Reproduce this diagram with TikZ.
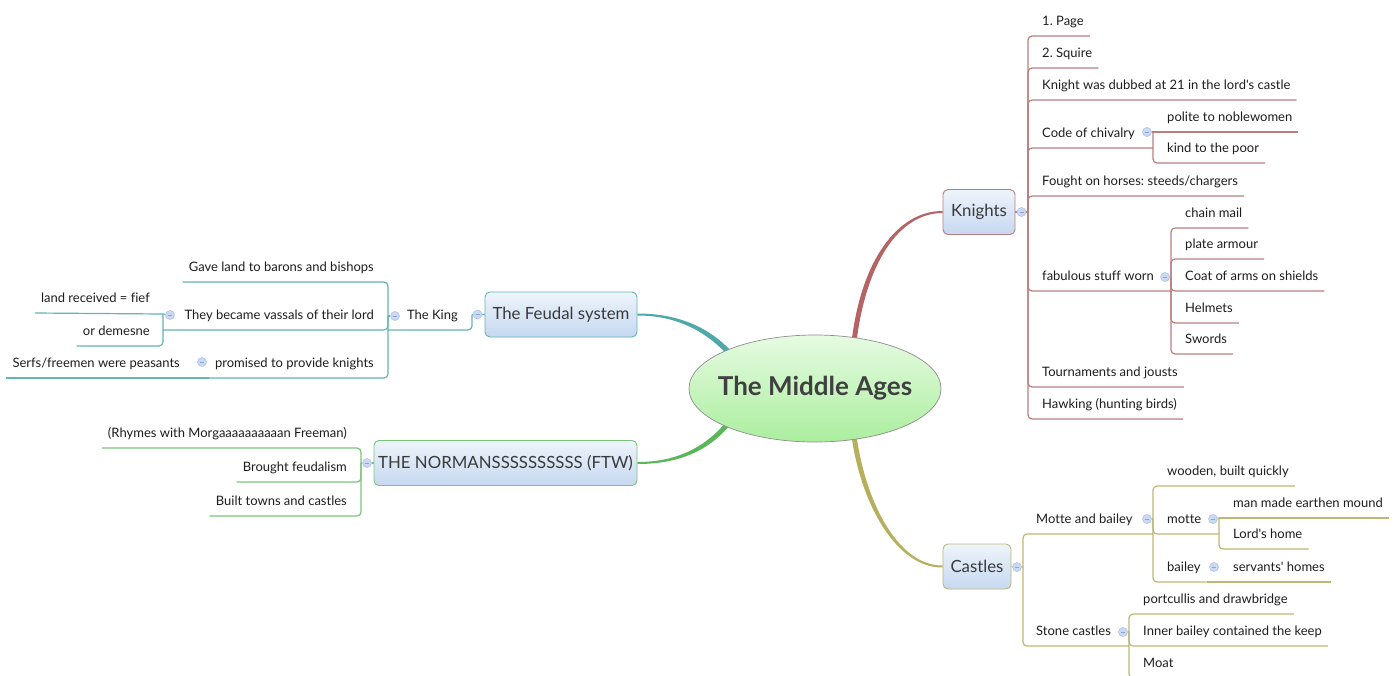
\documentclass[tikz,border=0pt]{standalone}
\usepackage{fontspec}
\setmainfont{Lato}[Ligatures=NoCommon]
\usetikzlibrary{shapes.geometric,backgrounds}
\frenchspacing

% branch colours
\definecolor{kcurve}{HTML}{B56466}
\definecolor{kline}{HTML}{BB7E7E}
\definecolor{ccurve}{HTML}{B5AF5E}
\definecolor{cline}{HTML}{BDB772}
\definecolor{fcurve}{HTML}{4FA9AA}
\definecolor{fline}{HTML}{63B5B6}
\definecolor{ncurve}{HTML}{5BB55B}
\definecolor{nline}{HTML}{7CC47C}
% fills and text
\definecolor{boxtop}{HTML}{EEF4FB}
\definecolor{boxbot}{HTML}{C6D8F0}
\definecolor{elltop}{HTML}{E6FBE2}
\definecolor{ellbot}{HTML}{ABEE9E}
\definecolor{ellline}{HTML}{8E8E8E}
\definecolor{expfill}{HTML}{CBD9F3}
\definecolor{expline}{HTML}{A9BDE6}
\definecolor{expminus}{HTML}{8EA3D2}
\definecolor{boxtext}{HTML}{3A3A3A}
\definecolor{toptext}{HTML}{1E1E1E}
\definecolor{titletext}{HTML}{404040}

\tikzset{
  topic/.style={font=\fontsize{13}{15}\selectfont, text=toptext,
    inner xsep=6pt, inner ysep=7pt, text height=10pt, text depth=3pt},
  tr/.style={topic, anchor=south west},
  tl/.style={topic, anchor=south east},
  mainbox/.style={rounded corners=5pt, top color=boxtop, bottom color=boxbot,
    line width=0.9pt, minimum height=45pt, inner sep=0pt,
    font=\fontsize{16.8}{19}\selectfont, text=boxtext},
  expander/.style={circle, minimum size=9pt, inner sep=0pt, fill=expfill,
    draw=expline, line width=0.5pt,
    path picture={\draw[expminus, line width=0.8pt]
      ([xshift=-2pt]path picture bounding box.center) --
      ([xshift=2pt]path picture bounding box.center);}},
  kl/.style={draw=kline, line width=1.2pt, rounded corners=4pt},
  cl/.style={draw=cline, line width=1.2pt, rounded corners=4pt},
  fl/.style={draw=fline, line width=1.2pt, rounded corners=4pt},
  nl/.style={draw=nline, line width=1.2pt, rounded corners=4pt},
}

\begin{document}
\begin{tikzpicture}[x=1pt,y=-1pt]
\useasboundingbox (0,0) rectangle (1400,675);

% ---------- central topic and main topics ----------
\node[ellipse, minimum width=252pt, minimum height=107pt, inner sep=0pt,
  top color=elltop, bottom color=ellbot, draw=ellline, line width=0.7pt]
  (mid) at (815,388.5) {};
\node[font=\bfseries\fontsize{26}{28}\selectfont, text=titletext, inner sep=0pt]
  (midtext) at (mid.center) {The Middle Ages};

\node[mainbox, draw=kline, minimum width=72pt] (kn) at (979,212) {Knights};
\node[mainbox, draw=cline, minimum width=68pt] (cas) at (977,566.5) {Castles};
\node[mainbox, draw=fline, minimum width=152pt] (fd) at (561,314.5) {The Feudal system};
\node[mainbox, draw=nline, minimum width=263pt] (nm) at (505.5,463) {THE NORMANSSSSSSSSSS (FTW)};

% ---------- junction points of the branch spines ----------
\coordinate (kj) at (1028,212);
\coordinate (chj) at (1153,132);
\coordinate (fbj) at (1171,277);
\coordinate (cj) at (1023,567);
\coordinate (mbj) at (1153,519);
\coordinate (mtj) at (1219,518);
\coordinate (sj) at (1129,632);
\coordinate (fdj) at (472,314.5);
\coordinate (kgj) at (388,316);
\coordinate (vj) at (163,314);
\coordinate (nj) at (361,463);

% ---------- Knights ----------
\node[tr] (page) at (1036,36) {1. Page};
\node[tr] (squ) at (1036,68) {2. Squire};
\node[tr] (dub) at (1036,100) {Knight was dubbed at 21 in the lord\textquotesingle s castle};
\node[tr] (chiv) at (1036,148) {Code of chivalry};
\node[tr] (pol) at (1161,132) {polite to noblewomen};
\node[tr] (kind) at (1161,163) {kind to the poor};
\node[tr] (fou) at (1036,196) {Fought on horses: steeds/chargers};
\node[tr] (fab) at (1036,291) {fabulous stuff worn};
\node[tr] (chm) at (1179,228) {chain mail};
\node[tr] (pla) at (1179,259) {plate armour};
\node[tr] (coa) at (1179,291) {Coat of arms on shields};
\node[tr] (hel) at (1179,323) {Helmets};
\node[tr] (swo) at (1179,354) {Swords};
\node[tr] (tou) at (1036,387) {Tournaments and jousts};
\node[tr] (haw) at (1036,419) {Hawking (hunting birds)};

% ---------- Castles ----------
\node[tr] (mb) at (1030,534) {Motte and bailey};
\node[tr] (woo) at (1161,486) {wooden, built quickly};
\node[tr] (mot) at (1161,534) {motte};
\node[tr] (mou) at (1227,518) {man made earthen mound};
\node[tr] (lor) at (1227,549) {Lord\textquotesingle s home};
\node[tr] (bai) at (1161,582) {bailey};
\node[tr] (ser) at (1227,582) {servants\textquotesingle\ homes};
\node[tr] (sto) at (1030,646) {Stone castles};
\node[tr] (por) at (1137,614) {portcullis and drawbridge};
\node[tr] (inn) at (1137,646) {Inner bailey contained the keep};
\node[tr] (moa) at (1137,678) {Moat};

% ---------- The Feudal system ----------
\node[tl] (king) at (464,330) {The King};
\node[tl] (gave) at (380,282) {Gave land to barons and bishops};
\node[tl] (vass) at (380,330) {They became vassals of their lord};
\node[tl] (land) at (156,313) {land received = fief};
\node[tl] (dem) at (156,346) {or demesne};
\node[tl] (prom) at (380,378) {promised to provide knights};
\node[tl] (serf) at (186,378) {Serfs/freemen were peasants};

% ---------- The Normans ----------
\node[tl] (rhy) at (353,448) {(Rhymes with Morgaaaaaaaaaan Freeman)};
\node[tl] (bro) at (353,482) {Brought feudalism};
\node[tl] (bui) at (353,516) {Built towns and castles};

% ---------- collapse buttons ----------
\node[expander] (xkn) at (1021.5,212) {};
\node[expander] (xch) at (1147,132) {};
\node[expander] (xfb) at (1165,277) {};
\node[expander] (xcas) at (1017,567) {};
\node[expander] (xmb) at (1147,519) {};
\node[expander] (xmt) at (1213,519) {};
\node[expander] (xba) at (1214,567) {};
\node[expander] (xst) at (1123,632) {};
\node[expander] (xfd) at (477.5,314.5) {};
\node[expander] (xkg) at (395,316) {};
\node[expander] (xva) at (170,315) {};
\node[expander] (xpr) at (202,362) {};
\node[expander] (xnm) at (367,463) {};

\begin{pgfonlayer}{background}
\fill[white] (0,0) rectangle (1400,675);

% tapered main branches (thin at the topic box, thick at the centre)
\fill[kcurve] ([yshift=1pt]kn.west) .. controls (897,211) and (861,261) .. (851.5,342)
  -- (856.5,342) .. controls (866,263) and (899,213) .. ([yshift=-1pt]kn.west) -- cycle;
\fill[ccurve] ([yshift=-1pt]cas.west) .. controls (897,568) and (861,505) .. (851.5,436)
  -- (856.5,436) .. controls (866,504) and (899,566) .. ([yshift=1pt]cas.west) -- cycle;
\fill[fcurve] ([yshift=1pt]fd.east) .. controls (683,313.5) and (714,331) .. (733.9,354.3)
  -- (730.1,357.7) .. controls (710,335) and (681,315.5) .. ([yshift=-1pt]fd.east) -- cycle;
\fill[ncurve] ([yshift=-1pt]nm.east) .. controls (683,464) and (712,448) .. (732.9,421.7)
  -- (729.1,418.3) .. controls (709,444) and (681,462) .. ([yshift=1pt]nm.east) -- cycle;

% Knights
\draw[kl] (kn.east) -- (xkn) -- (kj);
\draw[kl] (kj) |- (page.south east);
\draw[kl] (kj) |- (squ.south east);
\draw[kl] (kj) |- (dub.south east);
\draw[kl] (kj) |- (chj |- chiv.south);
\draw[kl] (kj) |- (fou.south east);
\draw[kl] (kj) |- (fbj |- fab.south);
\draw[kl] (kj) |- (tou.south east);
\draw[kl] (kj) |- (haw.south east);
\draw[kl] (xch) -- (chj);
\draw[kl] (chj) -- (pol.south east);
\draw[kl] (chj) |- (kind.south east);
\draw[kl] (xfb) -- (fbj);
\draw[kl] (fbj) |- (chm.south east);
\draw[kl] (fbj) |- (pla.south east);
\draw[kl] (fbj) |- (coa.south east);
\draw[kl] (fbj) |- (hel.south east);
\draw[kl] (fbj) |- (swo.south east);

% Castles
\draw[cl] (cas.east) -- (xcas) -- (cj);
\draw[cl] (cj) |- (mbj |- mb.south);
\draw[cl] (cj) |- (sj |- sto.south);
\draw[cl] (xmb) -- (mbj);
\draw[cl] (mbj) |- (woo.south east);
\draw[cl] (mbj) |- (mtj |- mot.south);
\draw[cl] (mbj) |- (bai.south east);
\draw[cl] (bai.south east) -- (ser.south east);
\draw[cl] (xmt) -- (mtj);
\draw[cl] (mtj) -- (mou.south east);
\draw[cl] (mtj) |- (lor.south east);
\draw[cl] (xst) -- (sj);
\draw[cl] (sj) |- (por.south east);
\draw[cl] (sj) |- (inn.south east);
\draw[cl] (sj) |- (moa.south east);

% The Feudal system
\draw[fl] (fd.west) -- (xfd) -- (fdj);
\draw[fl] (fdj) |- (kgj |- king.south);
\draw[fl] (xkg) -- (kgj);
\draw[fl] (kgj) |- (gave.south west);
\draw[fl] (kgj) |- (vj |- vass.south);
\draw[fl] (kgj) |- (prom.south west);
\draw[fl] (prom.south west) -- (serf.south west);
\draw[fl] (xva) -- (vj);
\draw[fl] (vj) -- (land.south west);
\draw[fl] (vj) |- (dem.south west);

% The Normans
\draw[nl] (nm.west) -- (xnm) -- (nj);
\draw[nl] (nj) |- (rhy.south west);
\draw[nl] (nj) |- (bro.south west);
\draw[nl] (nj) |- (bui.south west);
\end{pgfonlayer}
\end{tikzpicture}
\end{document}
